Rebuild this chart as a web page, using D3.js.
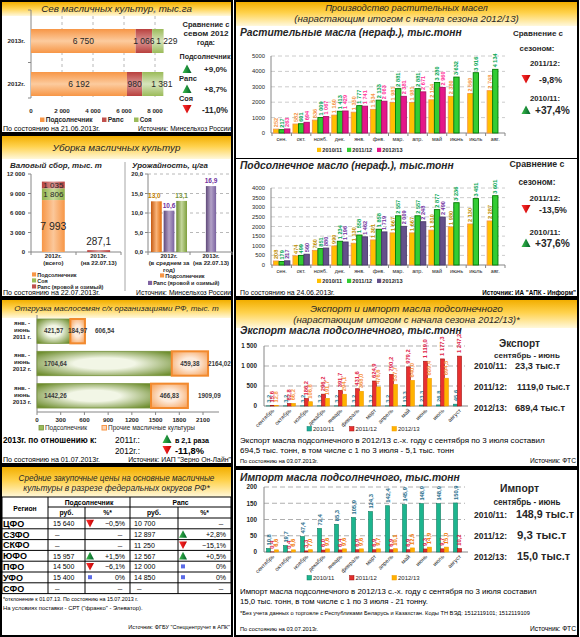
<!DOCTYPE html>
<html><head><meta charset="utf-8">
<script src="https://cdn.jsdelivr.net/npm/d3@7/dist/d3.min.js"></script>
<style>
html,body{margin:0;padding:0;background:#fff;}
svg{display:block;font-family:"Liberation Sans",Arial,sans-serif;}
</style></head><body>
<svg id="chart" width="580" height="637"></svg>
<script>
// ================= DATA =================
const sowYears = ["2013г.", "2012г."];
const sowSun = [6750, 6192];
const sowRaps = [1066, 980];
const sowSoy = [1229, 1381];
const sowTicks = [0, 2000, 4000, 6000, 8000];

const harvCats = [["2012г.", "(всего)"], ["2013г.", "(на 22.07.13)"]];
const harvSun = [7993, 0];
const harvSoy = [1806, 0];
const harvRaps = [1035, 287.1];
const harvTicks = [0, 3000, 6000, 9000, 12000];

const yieldCats = [["2012г.", "(в среднем за", "год)"], ["2013г.", "(на 22.07.13)"]];
const yieldSun = [13.0, null];
const yieldRaps = [10.6, 16.9];
const yieldSoy = [13.1, null];
const yieldTicks = [0, 5, 10, 15, 20];

const shipCats = [["янв. -", "июнь", "2011 г."], ["янв. -", "июнь", "2012 г."], ["янв. -", "июнь", "2013 г."]];
const shipSun = [421.57, 1704.64, 1442.26];
const shipOther = [184.97, 459.38, 466.83];
const shipTotal = [606.54, 2164.02, 1909.09];
const shipTicks = [0, 300, 600, 900, 1200, 1500, 1800, 2100];

const priceRegions = ["ЦФО", "СЗФО", "СКФО", "ЮФО", "ПФО", "УФО", "СФО"];
const priceSunRub = [15640, null, null, 15957, 14500, 15400, null];
const priceSunPct = [-0.5, null, null, 1.5, -6.1, 0, null];
const priceRapsRub = [10700, 12897, 11250, 12567, 12000, 14850, null];
const priceRapsPct = [null, 2.8, -15.1, 0.5, 0, 0, null];

const months = ["сен.", "окт.", "нояб.", "дек.", "янв.", "фев.", "мар.", "апр.", "май", "июнь", "июль", "авг."];
const seasons = ["2010/11", "2011/12", "2012/13"];
const vegOil1011 = [252, 582, 836, 1160, 1350, 1534, 1981, 1981, 2154, 2380, 2560, 2748];
const vegOil1112 = [217, 601, 1009, 1413, 1777, 2133, 2881, 2881, 3280, 3632, 3916, 4134];
const vegOil1213 = [263, 694, 1067, 1429, 1741, 2063, 2381, 2671, 2960, null, null, null];
const vegTicks = [0, 1000, 2000, 3000, 4000, 5000];
const sunOil1011 = [208, 474, 760, 990, 1130, 1301, 1667, 1667, 1810, 1980, 2130, 2287];
const sunOil1112 = [179, 499, 851, 1234, 1558, 1858, 2557, 2557, 2877, 3236, 3451, 3601];
const sunOil1213 = [217, 560, 880, 1196, 1462, 1719, 2009, 2248, 2490, null, null, null];
const sunTicks = [0, 500, 1000, 1500, 2000, 2500, 3000, 3500, 4000];

const monthsFull = ["сентябрь", "октябрь", "ноябрь", "декабрь", "январь", "февраль", "март", "апрель", "май", "июнь", "июль", "август"];
const exp1011 = [3.2, 3.2, 3.2, 3.2, 3.2, 3.2, 3.2, 3.2, 13.3, 23.3, 26.8, 45.6];
const exp1112 = [15.6, 62.8, 186.2, 296.2, 391.7, 431.6, 624.9, 790.2, 979.2, 1119.0, 1177.3, 1247.2];
const exp1213 = [12.8, 66.2, 106.6, 191.7, 294.1, 368.0, 476.6, 537.7, 640.0, 689.4, 694.5, null];
const expTicks = [0, 500, 1000, 1500];
const imp1011 = [10.8, 19.7, 47.4, 72.4, 85.3, 105.9, 124.3, 142.4, 145.9, 148.9, 148.9, 150.9];
const imp1112 = [0.4, 0.4, 3.3, 6.0, 6.4, 6.9, 6.9, 6.9, 6.9, 9.3, 9.7, 10.2];
const imp1213 = [6.6, 6.6, 7.0, 9.6, 9.6, 9.6, 9.7, 10.1, 12.5, 14.9, 15.0, null];
const impTicks = [0, 50, 100, 150, 200];

// ================= HELPERS =================
const loc = d3.formatLocale({decimal: ",", thousands: "\u00a0", grouping: [3], currency: ["", ""]});
const fInt = loc.format(",d");
const f1 = loc.format(",.1f");
const f1p = loc.format(".1f");
const f2 = loc.format(".2f");
const fPlain = d3.format("d");
const fPct = v => (v > 0 ? "+" : "") + (v === 0 ? "0" : f1p(v)) + "%";

const svg = d3.select("#chart");
const defs = svg.append("defs");
function linGrad(id, stops, vertical) {
  const g = defs.append("linearGradient").attr("id", id)
    .attr("x1", 0).attr("y1", 0).attr("x2", vertical ? 0 : 1).attr("y2", vertical ? 1 : 0);
  stops.forEach(s => g.append("stop").attr("offset", s[0]).attr("stop-color", s[1]));
}
function radGrad(id, inner, outer) {
  const g = defs.append("radialGradient").attr("id", id).attr("cx", "50%").attr("cy", "50%").attr("r", "65%");
  g.append("stop").attr("offset", 0).attr("stop-color", inner);
  g.append("stop").attr("offset", 0.35).attr("stop-color", inner);
  g.append("stop").attr("offset", 1).attr("stop-color", outer);
}
linGrad("hdr", [[0, "#F2AE00"], [0.45, "#FFD24D"], [1, "#FFF8DC"]], true);
linGrad("hSunV", [[0, "#F79646"], [0.5, "#FCCB9E"], [1, "#F79646"]], true);
linGrad("hRapsV", [[0, "#B9403D"], [0.5, "#D99694"], [1, "#B9403D"]], true);
linGrad("hSoyV", [[0, "#9BBB59"], [0.5, "#D7E4BD"], [1, "#9BBB59"]], true);
linGrad("vSun", [[0, "#F79646"], [0.5, "#FBC79A"], [1, "#F79646"]], false);
linGrad("vSoy", [[0, "#8FB04A"], [0.5, "#C6DA9A"], [1, "#8FB04A"]], false);
linGrad("vRaps", [[0, "#B9403D"], [0.5, "#D99694"], [1, "#B9403D"]], false);
linGrad("ySun", [[0, "#C55A11"], [0.5, "#F9B47A"], [1, "#E36C09"]], false);
linGrad("yRaps", [[0, "#5F497A"], [0.5, "#B3A2C7"], [1, "#7A62A0"]], false);
linGrad("ySoy", [[0, "#6E8B32"], [0.5, "#C3D69B"], [1, "#7E9F3D"]], false);
radGrad("shipG", "#F2F6E6", "#6F8E30");
radGrad("shipO", "#FDEBDC", "#F7A35C");
linGrad("triUp", [[0, "#3DBE4A"], [1, "#00602B"]], false);
linGrad("triDn", [[0, "#FF3030"], [1, "#C00000"]], false);
defs.append("clipPath").attr("id", "sowClip").append("rect").attr("x", 31).attr("y", 0).attr("width", 132.6).attr("height", 120);

function T(x, y, s, o = {}) {
  const fs = o.fs || 8;
  const t = svg.append("text").attr("x", x).attr("y", y).text(s)
    .attr("font-size", fs).attr("fill", o.fill || "#000");
  if (o.a) t.attr("text-anchor", o.a);
  if (o.b) t.attr("font-weight", "bold");
  if (o.i) t.attr("font-style", "italic");
  if (o.ff) t.attr("font-family", o.ff);
  if (o.w) {
    const len = t.node().getComputedTextLength();
    if (len > 0) {
      const k = Math.max(0.82, Math.min(1.2, o.w / len));
      t.attr("font-size", fs * k);
      const len2 = t.node().getComputedTextLength();
      if (Math.abs(len2 - o.w) > 1) t.attr("textLength", o.w).attr("lengthAdjust", "spacingAndGlyphs");
    }
  }
  if (o.rot !== undefined) t.attr("transform", `rotate(${o.rot},${x},${y})`);
  return t;
}
function line(x1, y1, x2, y2, stroke, sw, dash) {
  const l = svg.append("line").attr("x1", x1).attr("y1", y1).attr("x2", x2).attr("y2", y2)
    .attr("stroke", stroke || "#000").attr("stroke-width", sw || 1);
  if (dash) l.attr("stroke-dasharray", dash);
  return l;
}
function rect(x, y, w, h, fill, stroke, sw) {
  const r = svg.append("rect").attr("x", x).attr("y", y).attr("width", Math.max(0, w)).attr("height", Math.max(0, h))
    .attr("fill", fill || "none");
  if (stroke) r.attr("stroke", stroke).attr("stroke-width", sw || 1);
  return r;
}
function tri(cx, cy, up, s) {
  const p = up ? [[cx, cy - s], [cx + s, cy + s * 0.9], [cx - s, cy + s * 0.9]]
               : [[cx - s, cy - s * 0.9], [cx + s, cy - s * 0.9], [cx, cy + s]];
  svg.append("path").attr("d", "M" + p.join("L") + "Z").attr("fill", up ? "url(#triUp)" : "url(#triDn)");
}
function panel(x, y, w, h) { rect(x, y, w, h, "#fff", "#000", 2); }
function header(x, y, w, h, lines, fs, ys, ws) {
  rect(x, y, w, h, "url(#hdr)");
  lines.forEach((l, i) => T(x + w / 2, ys[i], l, {fs, a: "middle", i: true, fill: "#262626", w: ws[i]}));
}
function legendItem(x, y, color, label, fs, w) {
  rect(x, y - fs * 0.75, fs * 0.75, fs * 0.75, color);
  T(x + fs * 0.95, y, label, {fs, fill: "#262626", b: true, w});
}
const AX = "#868686", GR = "#BFBFBF", DK = "#262626";

// ================= PANEL 1: Sowing =================
panel(1, 1, 231, 132);
header(2, 2, 229, 14, ["Сев масличных культур, тыс.га"], 10.5, [12], [151]);
{
  const x = d3.scaleLinear().domain([0, 8000]).range([31, 155]);
  const y = d3.scaleBand().domain(sowYears).range([10, 115]).paddingInner(0.442).paddingOuter(0.442);
  const plotTop = 10, plotBot = 98;
  sowTicks.forEach(t => {
    if (t > 0) line(x(t), plotTop, x(t), plotBot, "#A6A6A6", 0.8, "3,3");
    T(x(t), 113, fInt(t), {fs: 6.2, a: "middle", b: true, fill: DK});
  });
  line(31, plotTop, 31, plotBot, AX);
  const mid = (y(sowYears[0]) + y.bandwidth() + y(sowYears[1])) / 2;
  [plotTop, mid, plotBot].forEach(v => line(28, v, 31, v, AX));
  const gBars = svg.append("g").attr("clip-path", "url(#sowClip)");
  sowYears.forEach((yr, i) => {
    const segs = [[0, sowSun[i], "url(#hSunV)"], [sowSun[i], sowSun[i] + sowRaps[i], "url(#hRapsV)"],
                  [sowSun[i] + sowRaps[i], sowSun[i] + sowRaps[i] + sowSoy[i], "url(#hSoyV)"]];
    const vals = [sowSun[i], sowRaps[i], sowSoy[i]];
    segs.forEach((s, k) => {
      gBars.append("rect").attr("x", x(s[0])).attr("y", y(yr)).attr("width", x(s[1]) - x(s[0]))
        .attr("height", y.bandwidth()).attr("fill", s[2]);
    });
    segs.forEach((s, k) => {
      const cx = (x(s[0]) + Math.min(x(s[1]), 163.6)) / 2 + (k === 2 ? 9 : 0);
      T(cx, y(yr) + y.bandwidth() / 2 + 3, fInt(vals[k]), {fs: 8.5, a: "middle", fill: DK});
    });
    T(25, y(yr) + y.bandwidth() / 2 + 2.3, yr, {fs: 6.2, a: "end", b: true, fill: DK});
  });
  legendItem(40, 122, "#F79646", "Подсолнечник", 6, 47);
  legendItem(102, 122, "#C0504D", "Рапс", 6, 16);
  legendItem(134, 122, "#9BBB59", "Соя", 6, 12);
  T(206, 27, "Сравнение с", {fs: 7.5, a: "middle", b: true, fill: DK, w: 47});
  T(206, 36, "севом 2012", {fs: 7.5, a: "middle", b: true, fill: DK, w: 45});
  T(206, 45, "года:", {fs: 7.5, a: "middle", b: true, fill: DK, w: 18});
  T(205, 59, "Подсолнечник", {fs: 7.5, a: "middle", b: true, fill: DK, w: 51});
  tri(187, 69, true, 4.5); T(227, 72, "+9,0%", {fs: 8.5, a: "end", b: true, fill: DK, w: 23});
  T(179, 81, "Рапс", {fs: 7.5, b: true, fill: DK, w: 18});
  tri(187, 89, true, 4.5); T(227, 92, "+8,7%", {fs: 8.5, a: "end", b: true, fill: DK, w: 23});
  T(179, 101, "Соя", {fs: 7.5, b: true, fill: DK, w: 14});
  tri(187, 109, false, 4.5); T(228, 113, "-11,0%", {fs: 8.5, a: "end", b: true, fill: DK, w: 26});
  T(3, 131, "По состоянию на 21.06.2013г.", {fs: 6.8, w: 97});
  T(231, 131, "Источник: Минсельхоз России", {fs: 6.8, a: "end", w: 93});
}

// ================= PANEL 2: Harvest =================
panel(1, 135, 231, 162);
header(2, 136, 229, 23, ["Уборка масличных культур"], 10.5, [151], [128]);
T(10, 168, "Валовый сбор, тыс. т", {fs: 9, i: true, b: true, fill: DK, w: 92});
T(132, 168, "Урожайность, ц/га", {fs: 9, i: true, b: true, fill: DK, w: 76});
line(125, 162, 125, 291, "#A6A6A6", 1);
{
  const y = d3.scaleLinear().domain([0, 12000]).range([252, 174]);
  const x = d3.scaleBand().domain(d3.range(harvCats.length)).range([31, 121]).paddingInner(0.495).paddingOuter(0.24);
  line(31, 174, 31, 252, AX); line(31, 252, 121, 252, AX);
  harvTicks.forEach(t => { line(28, y(t), 31, y(t), AX); T(25, y(t) + 2.2, fInt(t), {fs: 6, a: "end", b: true, fill: DK}); });
  [31, 76, 121].forEach(v => line(v, 252, v, 255, AX));
  harvCats.forEach((c, i) => {
    let base = 0;
    [[harvSun[i], "url(#vSun)", 10.5], [harvSoy[i], "url(#vSoy)", 8], [harvRaps[i], "url(#vRaps)", 8]].forEach(s => {
      if (!s[0]) return;
      rect(x(i), y(base + s[0]), x.bandwidth(), y(base) - y(base + s[0]), s[1]);
      if (s[0] > 500) T(x(i) + x.bandwidth() / 2, (y(base) + y(base + s[0])) / 2 + s[2] * 0.36, fInt(s[0]), {fs: s[2], a: "middle", fill: DK});
      else T(x(i) + x.bandwidth() / 2, y(base + s[0]) - 5, f1p(s[0]), {fs: 10, a: "middle", fill: DK});
      base += s[0];
    });
    c.forEach((l, k) => T(x(i) + x.bandwidth() / 2, 257.5 + k * 7.2, l, {fs: 6, a: "middle", b: true, fill: DK}));
  });
  legendItem(32, 276.5, "#F79646", "Подсолнечник", 5.5);
  legendItem(32, 282.5, "#9BBB59", "Соя", 5.5);
  legendItem(32, 288.5, "#C0504D", "Рапс (яровой и озимый)", 5.5);
}
{
  const y = d3.scaleLinear().domain([0, 20]).range([252, 174]);
  const x = d3.scaleBand().domain(d3.range(yieldCats.length)).range([148, 232]);
  yieldTicks.forEach(t => {
    if (t > 0) line(148, y(t), 232, y(t), "#A6A6A6", 0.8, "3,3");
    line(145, y(t), 148, y(t), AX);
    T(143, y(t) + 2.2, f1p(t), {fs: 6, a: "end", b: true, fill: DK});
  });
  line(148, 174, 148, 252, AX); line(148, 252, 232, 252, AX);
  [148, 190, 232].forEach(v => line(v, 252, v, 255, AX));
  const ser = [[yieldSun, "url(#ySun)", "#C08000"], [yieldRaps, "url(#yRaps)", "#7030A0"], [yieldSoy, "url(#ySoy)", "#77933C"]];
  yieldCats.forEach((c, i) => {
    const present = ser.filter(s => s[0][i] != null);
    const cx = x(i) + x.bandwidth() / 2;
    const sub = d3.scaleBand().domain(d3.range(present.length)).range([cx - present.length * 6, cx + present.length * 6]).paddingInner(0.15);
    present.forEach((s, k) => {
      const v = s[0][i];
      rect(sub(k), y(v), sub.bandwidth(), 252 - y(v), s[1]);
      T(sub(k) + sub.bandwidth() / 2 - (k === 0 && present.length > 1 ? 2 : 0), y(v) - 3, f1p(v), {fs: 6.5, a: "middle", b: true, fill: s[2]});
    });
    c.forEach((l, k) => T(cx, 257.5 + k * 7, l, {fs: 6, a: "middle", b: true, fill: DK}));
  });
  legendItem(160, 277.5, "#F79646", "Подсолнечник", 5.5);
  legendItem(148, 285, "#8064A2", "Рапс (яровой и озимый)", 5.5);
}
T(3, 295, "По состоянию на 22.07.2013г.", {fs: 6.8, w: 97});
T(231, 295, "Источник: Минсельхоз России", {fs: 6.8, a: "end", w: 95});

// ================= PANEL 3: Shipment =================
panel(1, 299, 231, 165);
header(2, 300, 229, 18, ["Отгрузка маслосемян с/х организациями РФ, тыс. т"], 9, [311], [205]);
{
  const x = d3.scaleLinear().domain([0, 2100]).range([37, 203]);
  const y = d3.scaleBand().domain(d3.range(shipCats.length)).range([315, 412]).paddingInner(0.246).paddingOuter(0.123);
  line(37, 315, 37, 412, AX); line(37, 412, 219, 412, AX);
  shipTicks.forEach(t => { line(x(t), 412, x(t), 415, AX); T(x(t), 422, fPlain(t), {fs: 6.2, a: "middle", b: true, fill: DK}); });
  shipCats.forEach((c, i) => {
    const y0 = y(i), h = y.bandwidth();
    rect(x(0), y0, x(shipSun[i]) - x(0), h, "url(#shipG)", "#77933C", 0.8);
    rect(x(shipSun[i]), y0, x(shipSun[i] + shipOther[i]) - x(shipSun[i]), h, "url(#shipO)", "#F28A2E", 2);
    T(x(0) + 7, y0 + h / 2 + 2.3, f2(shipSun[i]), {fs: 6.3, b: true, fill: "#3A3A3A"});
    T((x(shipSun[i]) + x(shipSun[i] + shipOther[i])) / 2, y0 + h / 2 + 2.3, f2(shipOther[i]), {fs: 6.3, a: "middle", b: true, fill: "#3A3A3A"});
    T(Math.min(x(shipTotal[i]) + 10, 208), y0 + h / 2 + 2.3, f2(shipTotal[i]), {fs: 6.3, b: true, fill: "#3A3A3A"});
    c.forEach((l, k) => T(22, y0 + 6 + k * 7, l, {fs: 6, a: "middle", b: true, fill: "#1F1F1F"}));
  });
  rect(39, 425.5, 4.5, 4.5, "#9BBB59", "#77933C", 0.8); T(45, 430, "Подсолнечник", {fs: 6.2, fill: DK, w: 42});
  rect(102, 425.5, 4.5, 4.5, "#FBD4B4", "#F79646", 1); T(108, 430, "Прочие масличные культуры", {fs: 6.2, fill: DK, w: 87});
  T(3, 442.5, "2013г. по отношению к:", {fs: 8.5, b: true, w: 94});
  T(115, 442.5, "2011г.:", {fs: 8.5, w: 25});
  tri(167, 439, true, 4.5); T(175, 442.5, "в 2,1 раза", {fs: 8.5, b: true, w: 34});
  T(115, 453.5, "2012г.:", {fs: 8.5, w: 25});
  tri(167, 450, false, 4.5); T(175, 453.5, "-11,8%", {fs: 8.5, b: true, w: 29});
  T(3, 462, "По состоянию на 01.07.2013г.", {fs: 6.8, w: 97});
  T(231, 462, "Источник: ИАП \"Зерно Он-Лайн\"", {fs: 6.8, a: "end", w: 103});
}

// ================= PANEL 4: Prices table =================
panel(1, 466, 231, 170);
header(2, 467, 229, 30, ["Средние закупочные цены на основные масличные", "культуры в разрезе федеральных округов РФ*"], 9, [481, 491], [196, 187]);
{
  const tx = [2, 48, 85, 130, 178, 231];
  const ty0 = 497, h1 = 10, h2 = 11, rh = 10.8;
  const rowY = d3.scaleLinear().domain([0, 1]).range([ty0 + h1 + h2, ty0 + h1 + h2 + rh]);
  const bottom = rowY(priceRegions.length);
  line(tx[0], ty0, tx[5], ty0);
  line(tx[1], ty0 + h1, tx[5], ty0 + h1);
  d3.range(priceRegions.length + 1).forEach(i => line(tx[0], rowY(i), tx[5], rowY(i)));
  [0, 1, 3, 5].forEach(k => line(tx[k], ty0, tx[k], bottom));
  [2, 4].forEach(k => line(tx[k], ty0 + h1, tx[k], bottom));
  T(25, ty0 + 14, "Регион", {fs: 6.8, a: "middle", b: true});
  T((tx[1] + tx[3]) / 2, ty0 + 7.5, "Подсолнечник", {fs: 6.8, a: "middle", b: true});
  T((tx[3] + tx[5]) / 2, ty0 + 7.5, "Рапс", {fs: 6.8, a: "middle", b: true});
  [["руб.", 1], ["%*", 2], ["руб.", 3], ["%*", 4]].forEach(d => T((tx[d[1]] + tx[d[1] + 1]) / 2, ty0 + h1 + 8, d[0], {fs: 6.8, a: "middle", b: true}));
  function pctCell(v, colStart, colEnd, cy) {
    if (v == null) { T(colEnd - 10, cy, "–", {fs: 8, a: "middle"}); return; }
    const tcx = colStart + 5;
    if (v > 0) tri(tcx, cy - 2.8, true, 4);
    else if (v < 0) tri(tcx, cy - 2.8, false, 4);
    else rect(tcx - 2, cy - 5, 4, 4, "#5B6BE6");
    T(colEnd - 5, cy, fPct(v), {fs: 7, a: "end"});
  }
  priceRegions.forEach((r, i) => {
    const cy = rowY(i) + 8.2;
    T(3, cy + 0.5, r, {fs: 9, b: true});
    if (priceSunRub[i] == null) T(tx[1] + 7, cy, "–", {fs: 8}); else T(tx[1] + 5, cy, fInt(priceSunRub[i]), {fs: 7});
    pctCell(priceSunPct[i], tx[2], tx[3], cy);
    if (priceRapsRub[i] == null) T(tx[3] + 7, cy, "–", {fs: 8}); else T(tx[3] + 4, cy, fInt(priceRapsRub[i]), {fs: 7});
    pctCell(priceRapsPct[i], tx[4], tx[5], cy);
  });
  const nf = "'Liberation Sans Narrow','Liberation Sans',Arial,sans-serif";
  T(3, 601, "*отклонение к 01.07.13. По состоянию на 15.07.2013 г.", {fs: 5.8, ff: nf, w: 135});
  T(3, 610, "На условиях поставки - СРТ (\"франко\" - Элеватор).", {fs: 5.8, ff: nf, w: 140});
  T(230, 629, "Источник: ФГБУ \"Спеццентручет в АПК\"", {fs: 5.8, a: "end", ff: nf, w: 102});
}

// ================= PANEL 5: Production =================
panel(235, 1, 343, 296);
header(236, 2, 341, 24, ["Производство растительных масел", "(нарастающим итогом с начала сезона 2012/13)"], 10, [11, 22], [163, 225]);
function prodChart(title, titleY, titleW, top, bottom, maxV, ticks, series, fills, strokes, lblColors, monthY, legY) {
  T(240, titleY, title, {fs: 11, b: true, i: true, fill: DK, w: titleW});
  const x = d3.scaleBand().domain(months).range([272, 505]).paddingInner(0.14).paddingOuter(0.07);
  const sub = d3.scaleBand().domain(seasons).range([0, x.bandwidth()]).padding(0.03);
  const y = d3.scaleLinear().domain([0, maxV]).range([bottom, top]);
  ticks.forEach(t => {
    if (t > 0) line(271, y(t), 505, y(t), GR, 0.8, "4,3");
    T(265, y(t) + 2, fPlain(t), {fs: 5.8, a: "end", fill: DK});
  });
  line(271, top, 271, bottom, AX); line(271, bottom, 505, bottom, AX);
  months.forEach((m, i) => {
    line(x(m) - x.step() * 0.07, bottom, x(m) - x.step() * 0.07, bottom + 3, AX);
    T(x(m) + x.bandwidth() / 2, monthY, m, {fs: 5.5, a: "middle", fill: DK});
  });
  line(505, bottom, 505, bottom + 3, AX);
  series.forEach((s, k) => {
    s.forEach((v, i) => {
      if (v == null) return;
      const bx = x(months[i]) + sub(seasons[k]);
      rect(bx, y(v), sub.bandwidth(), bottom - y(v), fills[k], strokes[k], 0.9);
      T(bx + sub.bandwidth() / 2 + 2, y(v) - 2, fInt(v), {fs: 5.6, b: true, fill: lblColors[k], rot: -90});
    });
  });
  seasons.forEach((s, k) => legendItem(317 + k * 30, legY, fills[k], s, 5.6));
}
prodChart("Растительные масла (нераф.), тыс.тонн", 36, 222, 56, 133, 5000, vegTicks,
  [vegOil1011, vegOil1112, vegOil1213], ["#FFC000", "#33CC33", "#E4168A"], ["#F79646", "#007A00", "#B0106A"],
  ["#F79646", "#00A651", "#FF3399"], 140.5, 152);
line(236, 158.5, 577, 158.5, "#000", 1.2);
prodChart("Подсолнечное масло (нераф.), тыс.тонн", 169, 214, 188, 265, 4000, sunTicks,
  [sunOil1011, sunOil1112, sunOil1213], ["#FFC000", "#33CC33", "#64508A"], ["#F79646", "#007A00", "#4B3A6E"],
  ["#C09000", "#00A651", "#7030A0"], 273, 283);
// side comparisons
T(538, 36, "Сравнение с", {fs: 8, a: "middle", b: true, fill: DK, w: 50});
T(537, 51, "сезоном:", {fs: 8, a: "middle", b: true, fill: DK, w: 35});
T(545, 66, "2011/12:", {fs: 8, a: "middle", b: true, fill: DK, w: 30});
tri(526, 79, false, 4.5); T(539, 82.5, "-9,8%", {fs: 8.5, b: true, fill: DK, w: 23});
T(545, 101, "2010/11:", {fs: 8, a: "middle", b: true, fill: DK, w: 30});
tri(526, 110, true, 4.5); T(535, 113.5, "+37,4%", {fs: 8.5, b: true, fill: DK, w: 35});
T(537, 167, "Сравнение с", {fs: 8.5, a: "middle", b: true, fill: DK, w: 55});
T(537, 185, "сезоном:", {fs: 8.5, a: "middle", b: true, fill: DK, w: 37});
T(545, 201, "2011/12:", {fs: 8.5, a: "middle", b: true, fill: DK, w: 31});
tri(526, 209, false, 4.5); T(539, 213, "-13,5%", {fs: 8.5, b: true, fill: DK, w: 28});
T(545, 235, "2010/11:", {fs: 8.5, a: "middle", b: true, fill: DK, w: 31});
tri(526, 243, true, 4.5); T(535, 247, "+37,6%", {fs: 8.5, b: true, fill: DK, w: 35});
T(240, 295, "По состоянию на 24.06.2013г.", {fs: 6.8, w: 95});
T(576, 295, "Источник: ИА \"АПК - Информ\"", {fs: 6.8, a: "end", b: true, w: 94});

// ================= PANELS 6-7: Export / Import =================
panel(235, 299, 343, 168);
header(236, 300, 341, 28, ["Экспорт и импорт масла подсолнечного", "(нарастающим итогом с начала сезона 2012/13)*"], 10, [312, 322.5], [193, 227]);
function tradeChart(title, titleY, titleW, top, bottom, maxV, ticks, series, fills, strokes, lblColors, legY) {
  T(240, titleY, title, {fs: 10.8, b: true, i: true, fill: DK, w: titleW});
  const x = d3.scaleBand().domain(monthsFull).range([264, 468]).paddingInner(0.3).paddingOuter(0.15);
  const sub = d3.scaleBand().domain(seasons).range([0, x.bandwidth()]);
  const y = d3.scaleLinear().domain([0, maxV]).range([bottom, top]);
  ticks.forEach(t => {
    if (t > 0) line(264, y(t), 465, y(t), "#A6A6A6", 0.9, "5,3");
    T(257, y(t) + 2.3, fInt(t), {fs: 6.3, a: "end", b: true, fill: DK});
  });
  line(264, top, 264, bottom, AX); line(264, bottom, 468, bottom, AX);
  monthsFull.forEach((m, i) => {
    const cx = x(m) + x.bandwidth() / 2;
    T(cx + 2, bottom + 5, m, {fs: 5.6, a: "end", fill: DK, rot: -45});
  });
  series.forEach((s, k) => {
    s.forEach((v, i) => {
      if (v == null) return;
      const bx = x(monthsFull[i]) + sub(seasons[k]);
      rect(bx, y(v), sub.bandwidth(), bottom - y(v), fills[k], strokes[k], 0.6);
      T(bx + sub.bandwidth() / 2 + 2, y(v) - 3, f1(v), {fs: 5.8, b: true, fill: lblColors[k], rot: -90});
    });
  });
  seasons.forEach((s, k) => {
    rect(307 + k * 42.5, legY - 4.5, 4.5, 4.5, fills[k], strokes[k], 0.5);
    T(313 + k * 42.5, legY, s, {fs: 6, fill: DK});
  });
}
tradeChart("Экспорт масла подсолнечного, тыс.тонн", 334, 222, 346, 406, 1500, expTicks,
  [exp1011, exp1112, exp1213], ["#1FAE9A", "#E8302F", "#FFB300"], ["#128070", "#A01010", "#F29A00"],
  ["#31859C", "#E0244A", "#F79646"], 431);
T(519.5, 347, "Экспорт", {fs: 10, a: "middle", b: true, fill: DK, w: 41});
T(527, 358, "сентябрь - июнь", {fs: 8, a: "middle", b: true, fill: DK, w: 66});
T(474, 369, "2010/11:", {fs: 9, b: true, fill: DK, w: 33}); T(515, 369, "23,3 тыс.т", {fs: 9.5, b: true, fill: DK, w: 45});
T(474, 390, "2011/12:", {fs: 9, b: true, fill: DK, w: 33}); T(517, 390, "1119,0 тыс.т", {fs: 9.5, b: true, fill: DK, w: 53});
T(474, 411, "2012/13:", {fs: 9, b: true, fill: DK, w: 33}); T(515, 411, "689,4 тыс.т", {fs: 9.5, b: true, fill: DK, w: 50});
T(240, 443, "Экспорт масла подсолнечного в 2012/13 с.-х. году с сентября по 3 июля составил", {fs: 7.6, w: 305});
T(240, 453, "694,5 тыс. тонн, в том числе с 1 по 3 июля - 5,1 тыс. тонн", {fs: 7.6, w: 214});
T(240, 463, "По состоянию на 03.07.2013г.", {fs: 6.2, w: 78});
T(576, 463, "Источник: ФТС", {fs: 6.2, a: "end", w: 46});

panel(235, 469, 343, 167);
tradeChart("Импорт масла подсолнечного, тыс.тонн", 481, 220, 487, 552, 200, impTicks,
  [imp1011, imp1112, imp1213], ["#1DB58E", "#E02E2A", "#FFB000"], ["#0E7C61", "#A01010", "#F29A00"],
  ["#1F6E8C", "#E0244A", "#F27A00"], 580);
T(519.5, 492, "Импорт", {fs: 10, a: "middle", b: true, fill: DK, w: 39});
T(527, 505, "сентябрь - июнь", {fs: 8, a: "middle", b: true, fill: DK, w: 67});
T(474, 518, "2010/11:", {fs: 9, b: true, fill: DK, w: 33}); T(516, 518, "148,9 тыс.т", {fs: 9.5, b: true, fill: DK, w: 58});
T(474, 539, "2011/12:", {fs: 9, b: true, fill: DK, w: 33}); T(517, 539, "9,3 тыс.т", {fs: 9.5, b: true, fill: DK, w: 50});
T(474, 560, "2012/13:", {fs: 9, b: true, fill: DK, w: 33}); T(517, 560, "15,0 тыс.т", {fs: 9.5, b: true, fill: DK, w: 53});
T(240, 594, "Импорт масла подсолнечного  в 2012/13 с.-х. году с сентября по 3 июля составил", {fs: 7.6, w: 297});
T(240, 604, "15,0 тыс. тонн, в том числе с 1 по 3 июля - 21 тонну.", {fs: 7.6, w: 188});
T(240, 615, "*Без учета данных о торговле с Республиками Беларусь и Казахстан. Коды ТН ВЭД: 1512119101; 1512119109",
  {fs: 5.2, ff: "'Liberation Sans Narrow','Liberation Sans',Arial,sans-serif", w: 290});
T(240, 631, "По состоянию на 03.07.2013г.", {fs: 6.2, w: 78});
T(576, 631, "Источник: ФТС", {fs: 6.2, a: "end", w: 46});
</script></body></html>
